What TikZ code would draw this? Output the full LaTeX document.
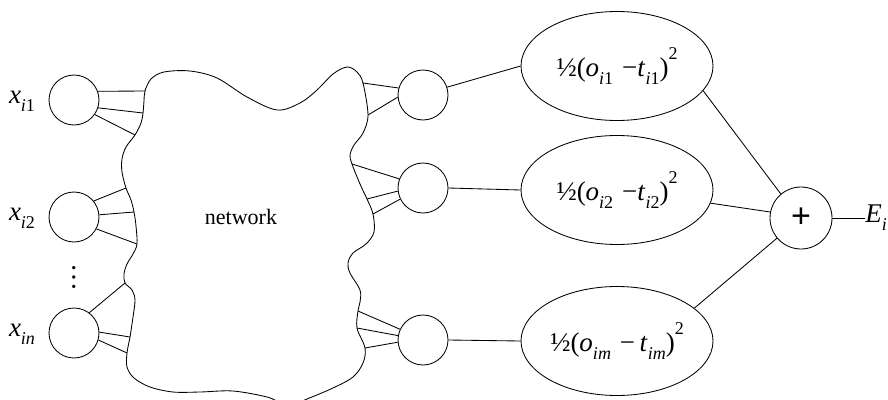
\documentclass[tikz,border=0pt]{standalone}
\usepackage{fontspec}
\setmainfont{Liberation Serif}
\newfontfamily\plusfont{Liberation Sans}
\usetikzlibrary{shapes.geometric}
\newcommand\ssub[1]{\raisebox{-0.3em}{\fontsize{18}{18}\selectfont #1}}
\newcommand\ssup[1]{\raisebox{0.6em}{\fontsize{18}{18}\selectfont #1}}
\newcommand\xsub[1]{\raisebox{-0.3em}{\fontsize{18}{18}\selectfont #1}}
\begin{document}
\begin{tikzpicture}[x=1pt,y=-1pt,line width=0.85pt,
  unit/.style={draw,circle,minimum size=50pt,inner sep=0pt},
  errnode/.style={draw,ellipse,minimum width=192pt,minimum height=109pt,inner sep=0pt,font=\fontsize{27}{30}\selectfont},
  inlabel/.style={font=\fontsize{27}{30}\selectfont,inner sep=0pt}]
\useasboundingbox (0,0) rectangle (888,399);
% input units
\node[unit] (in1) at (74,100) {};
\node[unit] (in2) at (74,217) {};
\node[unit] (inn) at (74,333) {};
\node[inlabel] (l1) at (22,101) {\textit{x}\xsub{\textit{i}1}};
\node[inlabel] (l2) at (22,218) {\textit{x}\xsub{\textit{i}2}};
\node[inlabel] (ln) at (22,334) {\textit{x}\xsub{\textit{in}}};
\node[inner sep=0pt,font=\fontsize{28}{30}\selectfont] (dots) at (74,277) {\rotatebox{90}{\dots}};
% output units
\node[unit] (o1) at (423,95) {};
\node[unit] (o2) at (423,188) {};
\node[unit] (o3) at (423,340) {};
% error ellipses
\node[errnode] (e1) at (617,66) {½(\textit{o}\ssub{\textit{i}1}\,\,−\textit{t}\ssub{\textit{i}1})\ssup{2}};
\node[errnode] (e2) at (617,190) {½(\textit{o}\ssub{\textit{i}2}\,\,−\textit{t}\ssub{\textit{i}2})\ssup{2}};
\node[errnode] (e3) at (617,341) {½(\textit{o}\ssub{\textit{im}}\,\,−\,\textit{t}\ssub{\textit{im}})\ssup{2}};
% sum
\node[draw,circle,minimum size=62pt,inner sep=0pt,font=\plusfont\fontsize{34}{34}\selectfont] (sum) at (801,218) {+};
\node[anchor=west,inner sep=0pt,font=\fontsize{27}{30}\selectfont] (E) at (865,218) {\textit{E}\xsub{\textit{i}}};
% blob junction coordinates
\coordinate (a1) at (145,91);
\coordinate (a2) at (143,113);
\coordinate (a3) at (135,135);
\coordinate (a4) at (126,188);
\coordinate (a5) at (134,212);
\coordinate (a6) at (137,244);
\coordinate (a7) at (125,283);
\coordinate (a8) at (130,337);
\coordinate (a9) at (127,353);
\coordinate (c1) at (363,83);
\coordinate (c2) at (368,115);
\coordinate (c3) at (352,164);
\coordinate (c4) at (367,199);
\coordinate (c5) at (373,214);
\coordinate (c6) at (358,311);
\coordinate (c7) at (357,328);
\coordinate (c8) at (365,348);
% network blob
\draw plot[smooth cycle,tension=0.55] coordinates {
 (a1) (151,79) (164,72) (190,71) (217,78) (247,97) (277,110) (300,103) (317,90)
 (333,74) (347,67) (357,72) (c1) (c2) (363,133) (354,145) (350,155) (c3)
 (360,184) (c4) (c5) (374,232) (366,244) (353,253) (348,263) (350,273)
 (360,290) (360,302) (c6) (c7) (c8) (363,363) (353,377) (333,388) (307,399)
 (294,404) (281,403) (267,397) (233,391) (200,392) (173,392) (150,387)
 (134,378) (127,367) (a9) (a8) (133,317) (135,300) (132,290) (a7) (124,274)
 (127,264) (133,254) (a6) (136,226) (a5) (131,200) (a4) (122,172) (122,159)
 (126,147) (a3) (141,123) (a2) (144,101)};
\node[font=\fontsize{22}{26}\selectfont] (net) at (241,217) {network};
% input connectors
\draw (in1.20) -- (a1);
\draw (in1.-18) -- (a2);
\draw (in1.-35) -- (a3);
\draw (in2.39) -- (a4);
\draw (in2.5) -- (a5);
\draw (in2.-28) -- (a6);
\draw (inn.53) -- (a7);
\draw (inn.2) -- (a8);
\draw (inn.-16) -- (a9);
% output connectors
\draw (c1) -- (o1.164);
\draw (c2) -- (o1.185);
\draw (c3) -- (o2.159);
\draw (c4) -- (o2.187);
\draw (c5) -- (o2.206);
\draw (c6) -- (o3.155);
\draw (c7) -- (o3.170);
\draw (c8) -- (o3.185);
% to ellipses
\draw (o1.18) -- (e1.west);
\draw (o2.east) -- (e2.west);
\draw (o3.east) -- (e3.west);
% to sum
\draw (e1.-16.6) -- (sum.130);
\draw (e2.-8.4) -- (sum.169);
\draw (e3.23.5) -- (sum.220);
\draw (sum.east) -- (E.west);
\end{tikzpicture}
\end{document}
